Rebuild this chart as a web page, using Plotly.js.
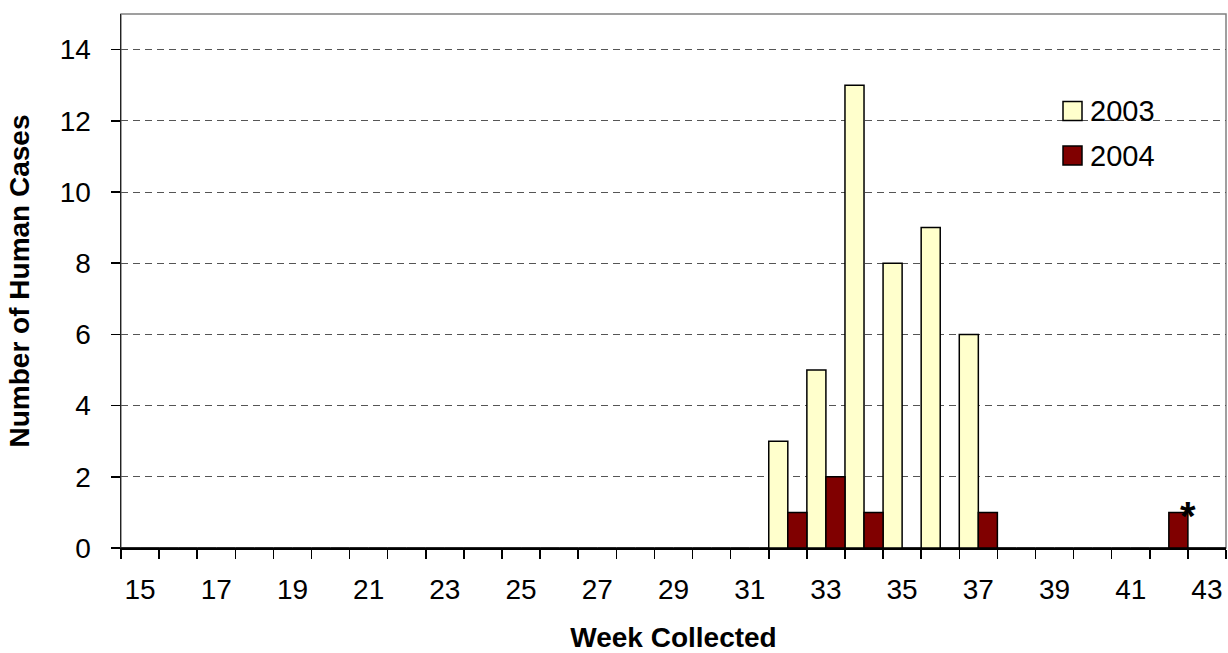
<!DOCTYPE html>
<html>
<head>
<meta charset="utf-8">
<script src="https://cdn.plot.ly/plotly-3.0.1.min.js"></script>
<style>
  html, body { margin: 0; padding: 0; background: #fff; }
  #chart { width: 1228px; height: 653px; }
</style>
</head>
<body>
<div id="chart"></div>
<script>
// ---- data ----
var weeks = [15,16,17,18,19,20,21,22,23,24,25,26,27,28,29,30,31,32,33,34,35,36,37,38,39,40,41,42,43];
var cases2003 = [0,0,0,0,0,0,0,0,0,0,0,0,0,0,0,0,0,3,5,13,8,9,6,0,0,0,0,0,0];
var cases2004 = [0,0,0,0,0,0,0,0,0,0,0,0,0,0,0,0,0,1,2,1,0,0,1,0,0,0,0,1,0];
var seriesNames = ['2003', '2004'];
var seriesColors = ['#FFFFCC', '#800000'];
var tickWeeks = weeks.filter(function (w) { return w % 2 === 1; });
var tickLabels = tickWeeks.map(String);
var yTicks = [0, 2, 4, 6, 8, 10, 12, 14];
var noteWeek = 42;   // the starred 2004 case
var noteText = '*';

// ---- layout geometry (pixels) ----
var W = 1228, H = 653;
var L = 121, R = 1226, T = 14, B = 548;
function px2x(px) { return (px - L) / (R - L); }
function px2y(py) { return (B - py) / (B - T); }

var FONT = 'Arial, "Liberation Sans", sans-serif';

var traces = [cases2003, cases2004].map(function (vals, i) {
  return {
    type: 'bar',
    x: weeks,
    y: vals,
    name: seriesNames[i],
    marker: { color: seriesColors[i], line: { color: '#000', width: 1.5 } },
    showlegend: false,
    hoverinfo: 'x+y+name'
  };
});

// custom legend (large square swatches like the original)
var shapes = [
  { type: 'rect', xref: 'paper', yref: 'paper', x0: 0, x1: 1, y0: 0, y1: 1,
    line: { color: '#808080', width: 1.5 }, fillcolor: 'rgba(0,0,0,0)', layer: 'below' },
  { type: 'rect', xref: 'paper', yref: 'paper', x0: px2x(1052), x1: px2x(1166), y0: px2y(180), y1: px2y(90),
    line: { width: 0 }, fillcolor: '#fff', layer: 'between' }
];
var annotations = [];
var legendRows = [111, 155.5];
seriesNames.forEach(function (nm, i) {
  var cy = legendRows[i];
  shapes.push({ type: 'rect', xref: 'paper', yref: 'paper',
    x0: px2x(1063), x1: px2x(1082), y0: px2y(cy + 9.5), y1: px2y(cy - 9.5),
    line: { color: '#000', width: 1.5 }, fillcolor: seriesColors[i], layer: 'above' });
  annotations.push({ xref: 'paper', yref: 'paper', x: px2x(1088), y: px2y(cy),
    xanchor: 'left', yanchor: 'middle', text: nm, showarrow: false,
    font: { family: FONT, size: 29, color: '#000' } });
});
var noteIdx = weeks.indexOf(noteWeek);
annotations.push({ xref: 'x', yref: 'y', x: weeks[noteIdx] + 0.5, y: cases2004[noteIdx],
  xanchor: 'center', yanchor: 'middle', yshift: -4, text: '<b>' + noteText + '</b>', showarrow: false,
  font: { family: FONT, size: 40, color: '#000' } });

var layout = {
  width: W, height: H,
  margin: { l: L, r: W - R, t: T, b: H - B, pad: 0 },
  paper_bgcolor: '#fff', plot_bgcolor: '#fff',
  font: { family: FONT, color: '#000' },
  barmode: 'group', bargap: 0, bargroupgap: 0,
  xaxis: {
    range: [weeks[0] - 0.5, weeks[weeks.length - 1] + 0.5],
    tickmode: 'array', tickvals: tickWeeks, ticktext: tickLabels,
    ticks: '', showgrid: false, zeroline: false,
    showline: true, linecolor: '#000', linewidth: 1.5,
    minor: { tick0: weeks[0] - 0.5, dtick: 1, ticks: 'outside', ticklen: 9, tickcolor: '#000', tickwidth: 1.5, showgrid: false },
    tickfont: { family: FONT, size: 28, color: '#000' },
    ticklabelstandoff: 16,
    title: { text: '<b>Week Collected</b>', font: { family: FONT, size: 28, color: '#000' }, standoff: 28 },
    fixedrange: true
  },
  yaxis: {
    range: [0, 15],
    tickmode: 'array', tickvals: yTicks,
    ticks: 'outside', ticklen: 9, tickcolor: '#000', tickwidth: 1.5,
    showgrid: true, gridcolor: '#555', gridwidth: 1, griddash: '7px,5px',
    zeroline: false, showline: true, linecolor: '#222', linewidth: 1.5,
    tickfont: { family: FONT, size: 28, color: '#000' },
    ticklabelstandoff: 14,
    title: { text: '<b>Number of Human Cases</b>', font: { family: FONT, size: 28, color: '#000' }, standoff: 22 },
    fixedrange: true
  },
  shapes: shapes,
  annotations: annotations,
  showlegend: false
};

Plotly.newPlot('chart', traces, layout, { displayModeBar: false, staticPlot: true });
</script>
</body>
</html>
